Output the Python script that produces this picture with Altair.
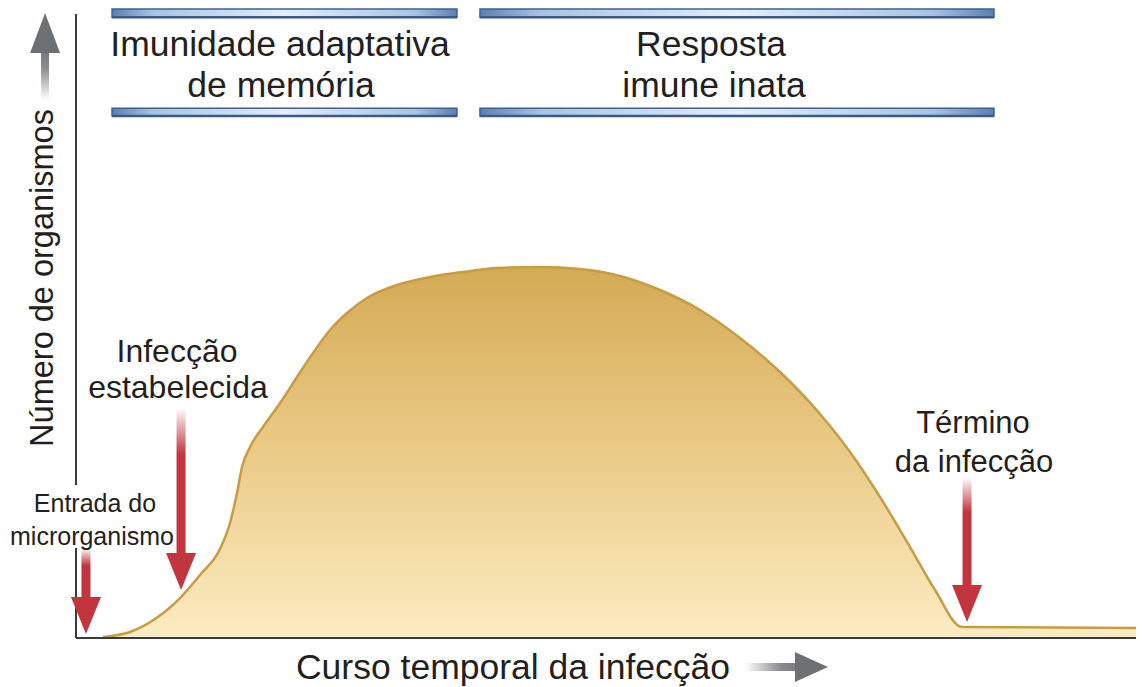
import altair as alt
import pandas as pd

# ---------------- data ----------------
# time course of infection (0-100 % of the course) and number of organisms (% of peak)
time_pct = [2.55, 5.09, 7.45, 9.81, 11.70, 13.58, 14.53, 15.19, 15.66, 16.42,
            17.64, 19.25, 20.85, 22.36, 23.96, 25.57, 27.45, 30.28, 33.40, 36.51,
            39.72, 43.77, 47.55, 51.32, 55.09, 58.87, 62.64, 66.42, 70.19, 73.02,
            75.85, 78.68, 81.04, 83.58, 100.0]
organisms_pct = [0.27, 1.62, 5.14, 10.81, 17.03, 24.05, 31.08, 39.19, 46.22, 51.62,
                 57.03, 63.51, 70.54, 77.03, 83.24, 87.84, 91.89, 95.41, 97.57, 98.92,
                 100.0, 100.27, 99.73, 97.84, 94.05, 88.65, 81.08, 71.89, 60.54, 50.27,
                 38.11, 24.59, 12.97, 2.97, 2.70]

# events marked by red arrows
event_names = ["Entrada do microrganismo", "Infecção estabelecida", "Término da infecção"]
event_time = [0.94, 9.91, 84.06]
event_level = [1.08, 12.97, 4.32]          # level where the arrow tip points

# phase bars at the top
phase_lines = [["Imunidade adaptativa", "de memória"], ["Resposta", "imune inata"]]
event_lines = [["Entrada do", "microrganismo"], ["Infecção", "estabelecida"], ["Término", "da infecção"]]
x_title = "Curso temporal da infecção"
y_title = "Número de organismos"

# ---------------- layout (positions / sizes / styles) ----------------
W, H = 1128, 679
PX_T, PX_V = 10.6, 3.7                    # pixels per data unit
T0, T1 = -6.415, 100.0
V0, V1 = -13.24, 170.27

phase_span = [(3.40, 35.94), (38.11, 86.60)]
phase_bar_v = [(167.8, 170.0), (141.1, 143.2)]
phase_text_t = [(19.25, 19.34), (59.91, 60.19)]
phase_text_v = [157.30, 146.22]
event_text_t = [(1.79, 1.51), (9.53, 9.62), (84.62, 84.72)]
event_text_v = [(34.05, 25.14), (74.59, 64.86), (55.41, 44.86)]
event_text_size = [25, 32, 31]
shaft_top = [24.3, 62.2, 43.5]

RED = "#c2353e"
GRAY = "#6e7073"
INK = "#231f20"
FONT = "Liberation Sans"

xs = alt.Scale(domain=[T0, T1], nice=False, zero=False)
ys = alt.Scale(domain=[V0, V1], nice=False, zero=False)


def X(f):
    return alt.X(f, type="quantitative", scale=xs, axis=None)


def Y(f):
    return alt.Y(f, type="quantitative", scale=ys, axis=None)


def vgrad(stops):
    return {"gradient": "linear", "x1": 0, "y1": 0, "x2": 0, "y2": 1,
            "stops": [{"offset": o, "color": c} for o, c in stops]}


def hgrad(stops):
    return {"gradient": "linear", "x1": 0, "y1": 0, "x2": 1, "y2": 0,
            "stops": [{"offset": o, "color": c} for o, c in stops]}


# ---- curve ----
curve = pd.DataFrame({"t": time_pct, "v": organisms_pct, "base": 0.0})
area = alt.Chart(curve).mark_area(
    interpolate="monotone",
    color=vgrad([(0, "#d4aa55"), (0.5, "#eacb87"), (1, "#fcecc2")]),
).encode(x=X("t"), y=Y("v"), y2=alt.Y2("base"))
line = alt.Chart(curve).mark_line(
    interpolate="monotone", color="#c69c45", strokeWidth=2.5
).encode(x=X("t"), y=Y("v"))

# ---- axis lines ----
axes_df = pd.DataFrame({
    "t": [0.0, 0.0, 0.0],
    "t2": [0.0, 0.0, T1],
    "v": [0.0, 41.35, 0.0],
    "v2": [24.32, 168.65, 0.0],
})
axes = alt.Chart(axes_df).mark_rule(color="#3a3a3a", strokeWidth=2).encode(
    x=X("t"), x2=alt.X2("t2"), y=Y("v"), y2=alt.Y2("v2"))

# ---- phase bars ----
bars_rows = []
for (a, b) in phase_span:
    for (v1, v2) in phase_bar_v:
        bars_rows.append({"t": a, "t2": b, "v": v1, "v2": v2})
bars_df = pd.DataFrame(bars_rows)
bars = alt.Chart(bars_df).mark_rect(
    fill=hgrad([(0, "#5b7fb0"), (0.12, "#a9c3e2"), (0.5, "#e4eef8"), (0.88, "#a9c3e2"), (1, "#5b7fb0")]),
    stroke="#3f6090", strokeWidth=1.5,
).encode(x=X("t"), x2=alt.X2("t2"), y=Y("v"), y2=alt.Y2("v2"))
bar_edge = alt.Chart(bars_df).mark_rule(color="#3a5a88", strokeWidth=2.5).encode(
    x=X("t"), x2=alt.X2("t2"), y=Y("v"))

# ---- red arrows ----
half_shaft = 4.5 / PX_T
shafts_df = pd.DataFrame({
    "t": [t - half_shaft for t in event_time],
    "t2": [t + half_shaft for t in event_time],
    "vt": shaft_top,
    "vb": [lv + 7.5 for lv in event_level],
})
shafts = alt.Chart(shafts_df).mark_rect(
    fill=vgrad([(0, "#ffffff"), (0.3, RED), (1, RED)])
).encode(x=X("t"), x2=alt.X2("t2"), y=Y("vt"), y2=alt.Y2("vb"))
heads_df = pd.DataFrame({"t": event_time, "v": event_level})
heads = alt.Chart(heads_df).mark_point(
    shape="M-1,-2.47L1,-2.47L0,0Z", size=900, filled=True, color=RED, opacity=1, strokeWidth=0
).encode(x=X("t"), y=Y("v"))

# ---- gray axis arrows ----
yarr_t = -2.92
yshaft = pd.DataFrame({"t": [yarr_t - 4 / PX_T], "t2": [yarr_t + 4 / PX_T], "vt": [161.0], "vb": [145.4]})
yshaft_m = alt.Chart(yshaft).mark_rect(
    fill=vgrad([(0, GRAY), (0.45, "#8a8c8f"), (1, "#ffffff")])
).encode(x=X("t"), x2=alt.X2("t2"), y=Y("vt"), y2=alt.Y2("vb"))
yhead = alt.Chart(pd.DataFrame({"t": [yarr_t], "v": [168.9]})).mark_point(
    shape="M0,0L1,2.67L-1,2.67Z", size=900, filled=True, color=GRAY, opacity=1, strokeWidth=0
).encode(x=X("t"), y=Y("v"))

xarr_v = -7.84
xshaft = pd.DataFrame({"t": [63.11], "t2": [69.2], "vt": [xarr_v + 4 / PX_V], "vb": [xarr_v - 4 / PX_V]})
xshaft_m = alt.Chart(xshaft).mark_rect(
    fill=hgrad([(0, "#ffffff"), (0.55, "#8a8c8f"), (1, GRAY)])
).encode(x=X("t"), x2=alt.X2("t2"), y=Y("vt"), y2=alt.Y2("vb"))
xhead = alt.Chart(pd.DataFrame({"t": [70.94], "v": [xarr_v]})).mark_point(
    shape="M0,0L-2.2,-1L-2.2,1Z", size=900, filled=True, color=GRAY, opacity=1, strokeWidth=0
).encode(x=X("t"), y=Y("v"))

# ---- texts ----
rows = []
for lines, tt in zip(phase_lines, phase_text_t):
    for txt, t, v in zip(lines, tt, phase_text_v):
        rows.append({"text": txt, "t": t, "v": v, "fs": 35.5, "ang": 0})
for lines, tt, vv, fs in zip(event_lines, event_text_t, event_text_v, event_text_size):
    for txt, t, v in zip(lines, tt, vv):
        rows.append({"text": txt, "t": t, "v": v, "fs": fs, "ang": 0})
rows.append({"text": x_title, "t": 41.23, "v": -11.08, "fs": 35.5, "ang": 0})
rows.append({"text": y_title, "t": -2.17, "v": 97.3, "fs": 32.5, "ang": 270})
text_df = pd.DataFrame(rows)
texts = alt.Chart(text_df).mark_text(
    font=FONT, align="center", baseline="alphabetic", color=INK
).encode(
    x=X("t"), y=Y("v"), text="text:N",
    size=alt.Size("fs:Q", scale=None, legend=None),
    angle=alt.Angle("ang:Q", scale=None),
)

chart = alt.layer(
    area, line, axes, bars, bar_edge, shafts, heads, yshaft_m, yhead, xshaft_m, xhead, texts
).properties(
    width=W, height=H, padding=0, autosize=alt.AutoSizeParams(type="none"), background="white"
).configure_view(stroke=None)

chart.save("out.html", embed_options={"renderer": "svg", "actions": False})
